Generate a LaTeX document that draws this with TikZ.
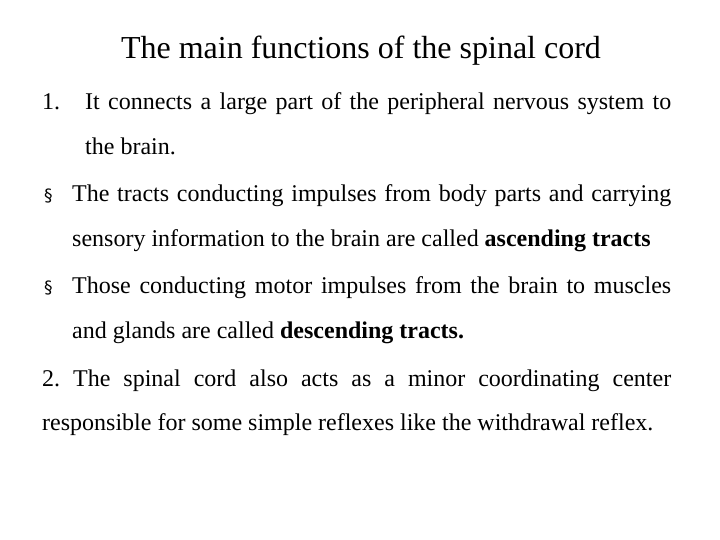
\documentclass[tikz,border=0pt]{standalone}
\usepackage{fontspec}
\setmainfont{Liberation Serif}
\newfontfamily\symf{DejaVu Sans}
\begin{document}
\begin{tikzpicture}[x=1pt,y=-1pt,
  ln/.style={anchor=base west,inner sep=0pt,font=\fontsize{24}{28}\selectfont},
  bul/.style={anchor=base west,inner sep=0pt,font=\symf\fontsize{17}{20}\selectfont}]
\useasboundingbox (0,0) rectangle (720,540);
\node[anchor=base,inner sep=0pt,font=\fontsize{32}{36}\selectfont] (title) at (361,59) {The main functions of the spinal cord};
\node[ln] (n1) at (42,110) {1.};
\node[ln] (l1) at (85,110) {\makebox[586pt][s]{It connects a large part of the peripheral nervous system to}};
\node[ln] (l2) at (85,155) {the brain.};
\node[bul] (b1) at (44,202) {§};
\node[ln] (l3) at (72,202) {\makebox[599pt][s]{The tracts conducting impulses from body parts and carrying}};
\node[ln] (l4) at (72,247) {sensory information to the brain are called \textbf{ascending tracts}};
\node[bul] (b2) at (44,293) {§};
\node[ln] (l5) at (72,293) {\makebox[599pt][s]{Those conducting motor impulses from the brain to muscles}};
\node[ln] (l6) at (72,338) {and glands are called \textbf{descending tracts.}};
\node[ln] (l7) at (42,386) {\makebox[629pt][s]{2.\ The spinal cord also acts as a minor coordinating center}};
\node[ln] (l8) at (42,430) {responsible for some simple reflexes like the withdrawal reflex.};
\end{tikzpicture}
\end{document}
